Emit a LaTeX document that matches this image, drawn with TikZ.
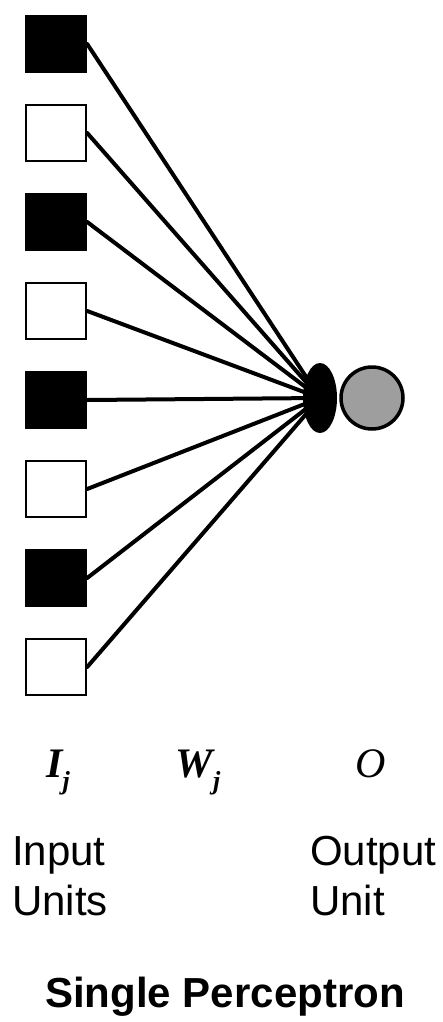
\documentclass[tikz,border=0pt]{standalone}
\usepackage{fontspec}
\setmainfont{Liberation Serif}
\newfontfamily\labelfont{Liberation Sans}
\usetikzlibrary{shapes.geometric}
\newcommand{\subj}{\raisebox{-0.3em}{\fontsize{26}{26}\selectfont j}}
\tikzset{
  unit/.style={draw=black, line width=2.4pt, minimum width=60pt, minimum height=56pt, inner sep=0pt},
  onunit/.style={unit, fill=black},
  offunit/.style={unit, fill=white},
  weight/.style={line width=4pt, line cap=round},
  caption/.style={font=\labelfont\fontsize{42}{50}\selectfont, align=left, inner sep=0pt},
  symb/.style={font=\fontsize{42}{42}\selectfont, inner sep=0pt}
}
\begin{document}
\begin{tikzpicture}[x=1pt,y=-1pt]
\useasboundingbox (0,0) rectangle (442,1022);
\foreach \k in {0,...,7}{
  \pgfmathtruncatemacro{\odd}{mod(\k,2)}
  \ifnum\odd=0
    \node[onunit] (s\k) at (56,{44+89*\k}) {};
  \else
    \node[offunit] (s\k) at (56,{44+89*\k}) {};
  \fi
}
\node[ellipse, fill=black, minimum width=34pt, minimum height=70pt, inner sep=0pt] (blob) at (320,398) {};
\node[circle, draw=black, line width=3.5pt, fill=black!38, minimum size=62pt, inner sep=0pt] (out) at (372,398) {};
\foreach \k in {0,...,7}{
  \draw[weight] (s\k.east) -- (blob.center);
}
\node[symb, anchor=base] (ij) at (58,777) {\bfseries\itshape I\subj};
\node[symb, anchor=base] (wj) at (198,777) {\bfseries\itshape W\subj};
\node[symb, anchor=base] (o) at (371,777) {\itshape O};
\node[caption, anchor=base west] (inp) at (12,915) {Input\\Units};
\node[caption, anchor=base west] (outp) at (310,915) {Output\\Unit};
\node[font=\labelfont\bfseries\fontsize{42}{42}\selectfont, anchor=base, inner sep=0pt] (title) at (225,1007) {Single Perceptron};
\end{tikzpicture}
\end{document}
